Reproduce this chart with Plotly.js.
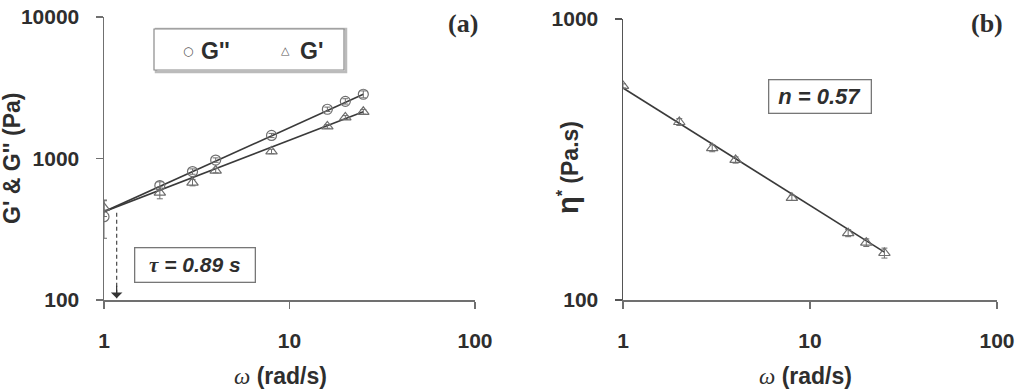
<!DOCTYPE html>
<html>
<head>
<meta charset="utf-8">
<script src="https://cdn.plot.ly/plotly-3.0.1.min.js"></script>
<style>html,body{margin:0;padding:0;background:#fff;}#chart{width:1017px;height:390px;}</style>
</head>
<body>
<div id="chart"></div>
<script>
// ---- data ----
var omega = [1, 2, 3, 4, 8, 16, 20, 25];
var gDoublePrime = [388, 644, 809, 975, 1455, 2228, 2535, 2844];
var gDoublePrimeErr = [115, 40, 35, 35, 50, 80, 110, 160];
var gPrime = [449, 574, 676, 822, 1122, 1686, 1950, 2137];
var gPrimeErr = [60, 55, 35, 30, 40, 50, 60, 80];
var etaStar = [578, 430, 347, 315, 231, 173, 160, 147];
var etaStarErr = [10, 12, 10, 8, 5, 5, 5, 6];

var fitOmega = [1, 25];
var gDoublePrimeFit = [421, 2844];
var gPrimeFit = [421, 2137];
var etaFit = [568, 148];

var crossOmega = [1.17, 1.17];
var crossG = [414, 103];

var xTickVals = [1, 10, 100];
var xTickText = ['1', '10', '100'];
var yTickValsA = [100, 1000, 10000];
var yTickTextA = ['100', '1000', '10000'];
var yTickValsB = [100, 1000];
var yTickTextB = ['100', '1000'];

// ---- styling ----
var W = 1017, H = 390;
function px(x) { return x / W; }
function py(y) { return 1 - y / H; }
var axCol = '#707070';
var lineCol = '#3a3a3a';
var mkCol = '#6e6e6e';
var tickFont = {family: 'Liberation Sans, Arial, sans-serif', size: 21, color: '#2e2e2e', weight: 'bold'};

function axisBase(extra) {
  var a = {
    type: 'log', showgrid: false, zeroline: false, showline: true,
    linecolor: axCol, linewidth: 1.5, ticks: 'outside', ticklen: 7,
    tickcolor: axCol, tickwidth: 1.5, tickfont: tickFont, mirror: false,
    fixedrange: true
  };
  for (var k in extra) a[k] = extra[k];
  return a;
}

var traces = [
  {x: fitOmega, y: gDoublePrimeFit, mode: 'lines', line: {color: lineCol, width: 1.6}, xaxis: 'x', yaxis: 'y', showlegend: false, hoverinfo: 'skip'},
  {x: fitOmega, y: gPrimeFit, mode: 'lines', line: {color: lineCol, width: 1.6}, xaxis: 'x', yaxis: 'y', showlegend: false, hoverinfo: 'skip'},
  {x: omega, y: gDoublePrime, name: "G''", mode: 'markers', xaxis: 'x', yaxis: 'y',
   marker: {symbol: 'circle-open', size: 10, color: mkCol, line: {width: 1.2}},
   error_y: {type: 'data', array: gDoublePrimeErr, color: mkCol, thickness: 1, width: 3}, showlegend: false},
  {x: omega, y: gPrime, name: "G'", mode: 'markers', xaxis: 'x', yaxis: 'y',
   marker: {symbol: 'triangle-up-open', size: 10, color: mkCol, line: {width: 1.2}},
   error_y: {type: 'data', array: gPrimeErr, color: mkCol, thickness: 1, width: 3}, showlegend: false},
  {x: crossOmega, y: crossG, mode: 'lines', line: {color: '#555', width: 1.3, dash: '4px,3px'}, xaxis: 'x', yaxis: 'y', showlegend: false, hoverinfo: 'skip'},
  {x: fitOmega, y: etaFit, mode: 'lines', line: {color: lineCol, width: 1.6}, xaxis: 'x2', yaxis: 'y2', showlegend: false, hoverinfo: 'skip'},
  {x: omega, y: etaStar, name: 'η*', mode: 'markers', xaxis: 'x2', yaxis: 'y2',
   marker: {symbol: 'triangle-up-open', size: 10, color: mkCol, line: {width: 1.2}},
   error_y: {type: 'data', array: etaStarErr, color: mkCol, thickness: 1, width: 3}, showlegend: false}
];

var titleFont = {family: 'Liberation Sans, Arial, sans-serif', size: 23, color: '#2e2e2e', weight: 'bold'};
var omegaTitle = '<span style="font-family:Liberation Serif,Times New Roman,serif;font-style:italic;font-weight:normal">ω</span> (rad/s)';

var layout = {
  width: W, height: H,
  margin: {l: 0, r: 0, t: 0, b: 0},
  paper_bgcolor: '#fff', plot_bgcolor: 'rgba(0,0,0,0)',
  showlegend: false,
  xaxis: axisBase({domain: [px(104), px(475)], range: [0, 2], anchor: 'y', tickvals: xTickVals, ticktext: xTickText, ticklabelstandoff: 14}),
  yaxis: axisBase({domain: [py(300), py(17)], range: [2, 4], anchor: 'x', tickvals: yTickValsA, ticktext: yTickTextA, ticklabelstandoff: 12}),
  xaxis2: axisBase({domain: [px(623), px(997)], range: [0, 2], anchor: 'y2', tickvals: xTickVals, ticktext: xTickText, ticklabelstandoff: 14}),
  yaxis2: axisBase({domain: [py(300), py(19)], range: [2, 3], anchor: 'x2', tickvals: yTickValsB, ticktext: yTickTextB, ticklabelstandoff: 12, linecolor: '#555', tickcolor: '#555'}),
  shapes: [
    // legend box (panel a)
    {type: 'rect', xref: 'paper', yref: 'paper', x0: px(156), x1: px(346), y0: py(72), y1: py(29), line: {color: '#bbb', width: 2.5}, fillcolor: 'rgba(0,0,0,0)'},
    {type: 'rect', xref: 'paper', yref: 'paper', x0: px(154), x1: px(344), y0: py(70), y1: py(29), line: {color: '#8a8a8a', width: 1.2}, fillcolor: '#fff'}
  ],
  annotations: [
    {xref: 'paper', yref: 'paper', x: px(280), y: py(376), text: omegaTitle, showarrow: false, font: titleFont, xanchor: 'center', yanchor: 'middle'},
    {xref: 'paper', yref: 'paper', x: px(805), y: py(376), text: omegaTitle, showarrow: false, font: titleFont, xanchor: 'center', yanchor: 'middle'},
    {xref: 'paper', yref: 'paper', x: px(12), y: py(159), text: "G' &amp; G'' (Pa)", textangle: -90, showarrow: false, font: titleFont, xanchor: 'center', yanchor: 'middle'},
    {xref: 'paper', yref: 'paper', x: px(568), y: py(168), text: '<span style="font-size:29px">η</span><sup>*</sup> (Pa.s)', textangle: -90, showarrow: false, font: titleFont, xanchor: 'center', yanchor: 'middle'},
    {xref: 'paper', yref: 'paper', x: px(463), y: py(23), text: '(a)', showarrow: false, font: {family: 'Liberation Serif, Times New Roman, serif', size: 26, color: '#2e2e2e', weight: 'bold'}, xanchor: 'center', yanchor: 'middle'},
    {xref: 'paper', yref: 'paper', x: px(987), y: py(23), text: '(b)', showarrow: false, font: {family: 'Liberation Serif, Times New Roman, serif', size: 26, color: '#2e2e2e', weight: 'bold'}, xanchor: 'center', yanchor: 'middle'},
    // legend entries
    {xref: 'paper', yref: 'paper', x: px(188), y: py(51), text: '○', showarrow: false, font: {family: 'DejaVu Sans', size: 12, color: '#555'}, xanchor: 'center', yanchor: 'middle'},
    {xref: 'paper', yref: 'paper', x: px(199), y: py(51), text: "G''", showarrow: false, font: titleFont, xanchor: 'left', yanchor: 'middle'},
    {xref: 'paper', yref: 'paper', x: px(285), y: py(51), text: '△', showarrow: false, font: {family: 'DejaVu Sans', size: 11, color: '#555'}, xanchor: 'center', yanchor: 'middle'},
    {xref: 'paper', yref: 'paper', x: px(298), y: py(51), text: "G'", showarrow: false, font: titleFont, xanchor: 'left', yanchor: 'middle'},
    // tau box
    {xref: 'paper', yref: 'paper', x: px(194.5), y: py(265), text: '<span style="font-family:Liberation Serif,Times New Roman,serif">τ</span> = 0.89 s', showarrow: false,
     font: {family: 'Liberation Sans, Arial, sans-serif', size: 21, color: '#2e2e2e', weight: 'bold', style: 'italic'},
     bordercolor: '#777', borderwidth: 1.3, borderpad: 2, bgcolor: '#fff', width: 115, height: 29, xanchor: 'center', yanchor: 'middle'},
    // n box
    {xref: 'paper', yref: 'paper', x: px(820), y: py(96.5), text: 'n = 0.57', showarrow: false,
     font: {family: 'Liberation Sans, Arial, sans-serif', size: 22, color: '#2e2e2e', weight: 'bold', style: 'italic'},
     bordercolor: '#777', borderwidth: 1.3, borderpad: 2, bgcolor: '#fff', width: 97, height: 28, xanchor: 'center', yanchor: 'middle'},
    // arrow head of dashed line (log coordinates for annotations)
    {xref: 'x', yref: 'y', x: Math.log10(crossOmega[1]), y: Math.log10(crossG[1]), text: '', showarrow: true, ax: 0, ay: -14, axref: 'pixel', ayref: 'pixel',
     arrowhead: 1, arrowsize: 1.6, arrowwidth: 1.2, arrowcolor: '#333', standoff: 0}
  ]
};

Plotly.newPlot('chart', traces, layout, {displayModeBar: false, staticPlot: true});
</script>
</body>
</html>
